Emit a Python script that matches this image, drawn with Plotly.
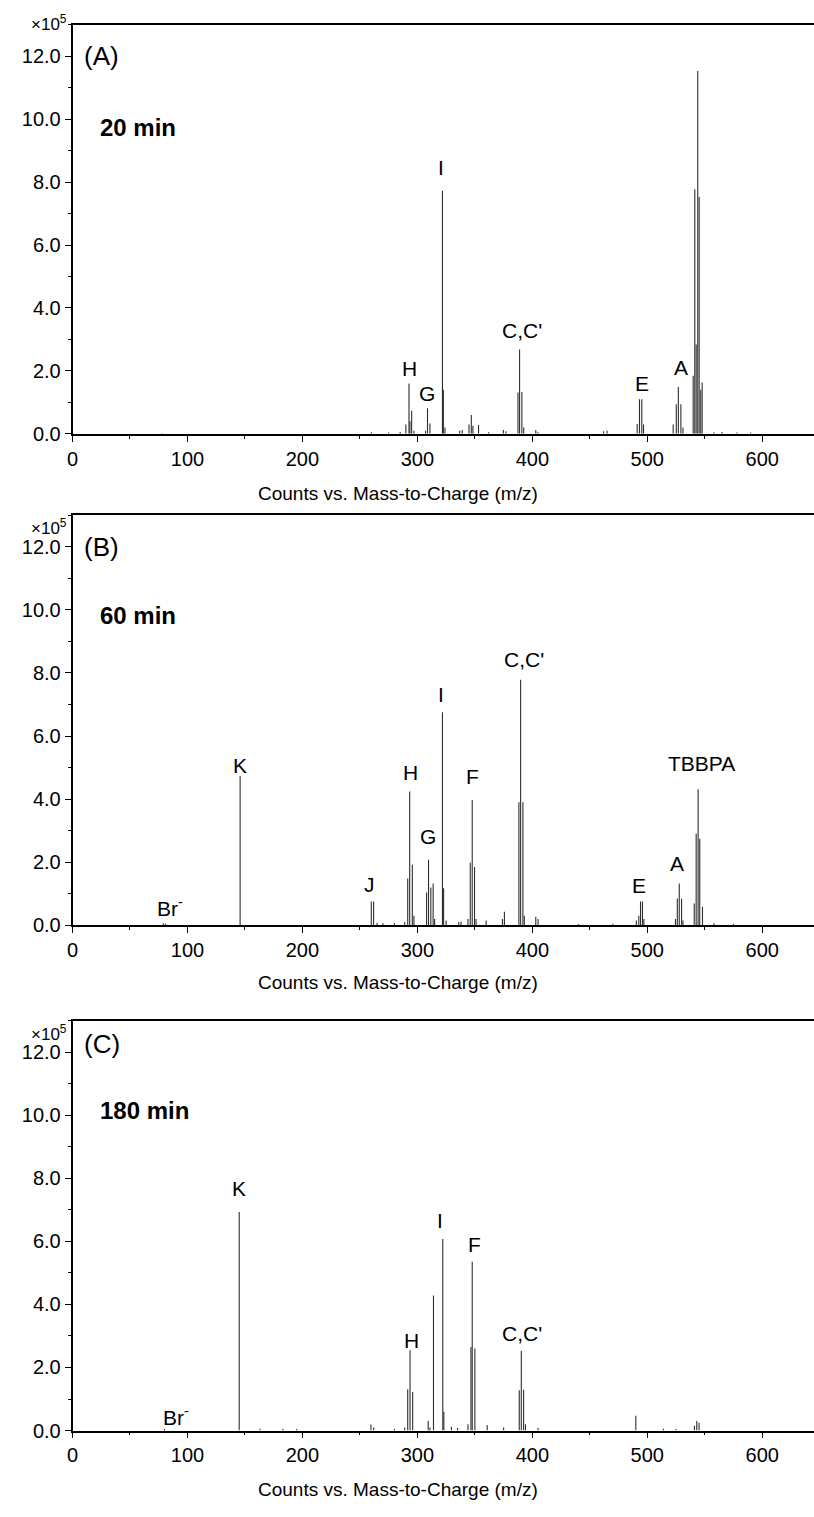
import plotly.graph_objects as go

# ---------------- data (intensity in units of 1e5 counts) ----------------
mz_A = [78, 260, 275, 285, 290, 292.7, 293.5, 295, 297, 307.1, 308.8, 310.9, 321.8, 322.6, 324,
        336.8, 339, 344.9, 346.9, 348.3, 353.2, 362, 374.8, 377, 387.5, 388.9, 390.9, 392.5, 403,
        405, 462, 465, 491.2, 493.2, 495.2, 496.7, 522.5, 525.2, 527.0, 529.2, 531, 539.9, 541.3,
        542.5, 543.9, 545.1, 546.5, 547.7, 558, 565, 578, 590]
int_A = [0.02, 0.05, 0.04, 0.06, 0.3, 1.6, 0.4, 0.73, 0.1, 0.1, 0.81, 0.33, 7.73, 1.4, 0.2,
         0.1, 0.12, 0.3, 0.6, 0.26, 0.28, 0.05, 0.12, 0.08, 1.31, 2.68, 1.33, 0.2, 0.12,
         0.05, 0.08, 0.1, 0.31, 1.1, 1.1, 0.3, 0.3, 0.94, 1.49, 0.94, 0.2, 1.85, 7.77,
         2.84, 11.53, 7.53, 1.4, 1.63, 0.05, 0.06, 0.04, 0.04]

mz_B = [79, 81, 145.8, 259.9, 261.9, 265, 270, 280, 289, 291.6, 293.3, 295.6, 297, 308, 309.7,
        311.7, 313.7, 315, 321.8, 322.8, 325, 336, 338, 344, 346, 347.7, 349.7, 351, 359.8, 374,
        375.7, 388.3, 389.8, 391.8, 393, 403, 405, 440, 470, 490.5, 492.6, 494.1, 495.8, 497,
        524.5, 526.1, 527.8, 529.8, 531, 540.8, 542.5, 544.2, 545.6, 548, 558, 575]
int_B = [0.06, 0.05, 4.73, 0.75, 0.75, 0.08, 0.06, 0.07, 0.1, 1.48, 4.24, 1.92, 0.3, 1.04, 2.08,
         1.2, 1.32, 0.2, 6.75, 1.17, 0.15, 0.1, 0.12, 0.2, 1.98, 3.97, 1.85, 0.2, 0.15, 0.2,
         0.43, 3.9, 7.78, 3.9, 0.3, 0.27, 0.2, 0.04, 0.05, 0.15, 0.3, 0.75, 0.75, 0.2,
         0.2, 0.85, 1.32, 0.85, 0.15, 0.69, 2.9, 4.31, 2.74, 0.59, 0.06, 0.04]

mz_C = [80, 145, 163, 183, 195, 259.6, 262, 280, 289, 291.6, 293.6, 295.9, 309.4, 311, 314,
        322.1, 323, 329.6, 335, 344, 346.6, 347.7, 350, 360.7, 375, 388.6, 390.4, 392.4, 394,
        405, 490, 514, 525, 541, 543, 545]
int_C = [0.05, 6.93, 0.06, 0.06, 0.05, 0.19, 0.1, 0.05, 0.1, 1.31, 2.55, 1.22, 0.3, 0.1, 4.28,
         6.07, 0.6, 0.12, 0.08, 0.2, 2.65, 5.35, 2.6, 0.18, 0.1, 1.28, 2.52, 1.29, 0.2,
         0.08, 0.47, 0.06, 0.05, 0.15, 0.3, 0.25]

panel_tags = ["(A)", "(B)", "(C)"]
times = ["20 min", "60 min", "180 min"]

labels_A = ["TBBPA", "I", "C,C'", "H", "G", "E", "A"]
labels_B = ["Br<sup>-</sup>", "K", "J", "H", "G", "I", "F", "C,C'", "E", "A", "TBBPA"]
labels_C = ["Br<sup>-</sup>", "K", "H", "I", "F", "C,C'"]

x_ticks = [0, 100, 200, 300, 400, 500, 600]
y_ticks = [0, 2, 4, 6, 8, 10, 12]

# label anchor positions (m/z, intensity) for the peak annotations
lab_pos_A = [(545.4, 13.25), (320.7, 8.48), (390.7, 3.3), (293, 2.07), (308.6, 1.28),
             (495.2, 1.59), (528.9, 2.10)]
lab_pos_B = [(84.7, 0.59), (145.8, 5.05), (258.2, 1.29), (293.6, 4.84), (309.4, 2.81),
             (320.7, 7.31), (347.7, 4.73), (392.4, 8.43), (492.7, 1.27), (526.1, 1.97),
             (547.1, 5.12)]
lab_pos_C = [(90.3, 0.47), (145, 7.69), (294.7, 2.87), (320, 6.65), (350, 5.89), (390.7, 3.08)]

# ---------------- figure ----------------
W, H = 814, 1517
FONT = "Arial, Liberation Sans, sans-serif"

# plot-area pixel boxes (top, bottom)
boxes = [(25, 437), (519, 932), (1028, 1441)]
x_left = 67

fig = go.Figure()


def sticks(mz, inten):
    xs, ys = [], []
    for m, v in zip(mz, inten):
        xs += [m, m, None]
        ys += [0, v, None]
    return xs, ys


spectra = [(mz_A, int_A), (mz_B, int_B), (mz_C, int_C)]
all_labels = [(labels_A, lab_pos_A), (labels_B, lab_pos_B), (labels_C, lab_pos_C)]
ytags_pos = [(12.02, 9.75), (11.98, 9.83), (12.26, 10.16)]
x105_px = [23, 531, 1041]
title_px = [497, 990, 1500]

annotations = []
for i, (mz, inten) in enumerate(spectra):
    k = "" if i == 0 else str(i + 1)
    xs, ys = sticks(mz, inten)
    fig.add_trace(go.Scatter(x=xs, y=ys, mode="lines",
                             line=dict(color="#2e2e2e", width=1.1),
                             xaxis="x" + k, yaxis="y" + k, showlegend=False,
                             hoverinfo="skip"))
    top, bot = boxes[i]
    axis_common = dict(showgrid=False, zeroline=False, showline=True, linecolor="black",
                       linewidth=1.5, ticks="outside", tickcolor="black", tickwidth=1.2,
                       ticklen=6, tickfont=dict(family=FONT, size=20, color="black"))
    fig.update_layout(**{
        "xaxis" + k: dict(axis_common, domain=[x_left / W, 1.0], range=[0, 645],
                          tickvals=x_ticks, mirror=True, anchor="y" + k,
                          minor=dict(dtick=50, tick0=0, ticks="outside", ticklen=3,
                                     tickcolor="black", tickwidth=1.2)),
        "yaxis" + k: dict(axis_common, domain=[1 - bot / H, 1 - top / H], range=[0, 13],
                          tickvals=y_ticks, tickformat=".1f", anchor="x" + k,
                          minor=dict(dtick=1, tick0=0, ticks="outside", ticklen=3,
                                     tickcolor="black", tickwidth=1.2)),
    })
    # peak labels
    labs, pos = all_labels[i]
    for t, (lx, ly) in zip(labs, pos):
        annotations.append(dict(text=t, x=lx, y=ly, xref="x" + k, yref="y" + k,
                                showarrow=False, xanchor="center", yanchor="middle",
                                font=dict(family=FONT, size=21, color="black")))
    # panel tag and time
    ty, my = ytags_pos[i]
    annotations.append(dict(text=panel_tags[i], x=8.6, y=ty, xref="x" + k, yref="y" + k,
                            showarrow=False, xanchor="left", yanchor="middle",
                            font=dict(family=FONT, size=26, color="black")))
    annotations.append(dict(text="<b>" + times[i] + "</b>", x=22.5, y=my, xref="x" + k,
                            yref="y" + k, showarrow=False, xanchor="left", yanchor="middle",
                            font=dict(family=FONT, size=24, color="black")))
    # x10^5 multiplier
    annotations.append(dict(text="×10<sup>5</sup>", x=63 / W, y=1 - x105_px[i] / H,
                            xref="paper", yref="paper", showarrow=False, xanchor="right",
                            yanchor="middle",
                            font=dict(family=FONT, size=17, color="black")))
    # axis title
    annotations.append(dict(text="Counts vs. Mass-to-Charge (m/z)", x=395 / W,
                            y=1 - title_px[i] / H, xref="paper", yref="paper",
                            showarrow=False, xanchor="center", yanchor="middle",
                            font=dict(family=FONT, size=19, color="black")))

fig.update_layout(width=W, height=H, margin=dict(l=0, r=0, t=0, b=0),
                  paper_bgcolor="white", plot_bgcolor="white",
                  annotations=annotations, showlegend=False)

fig.write_html("out.html")
